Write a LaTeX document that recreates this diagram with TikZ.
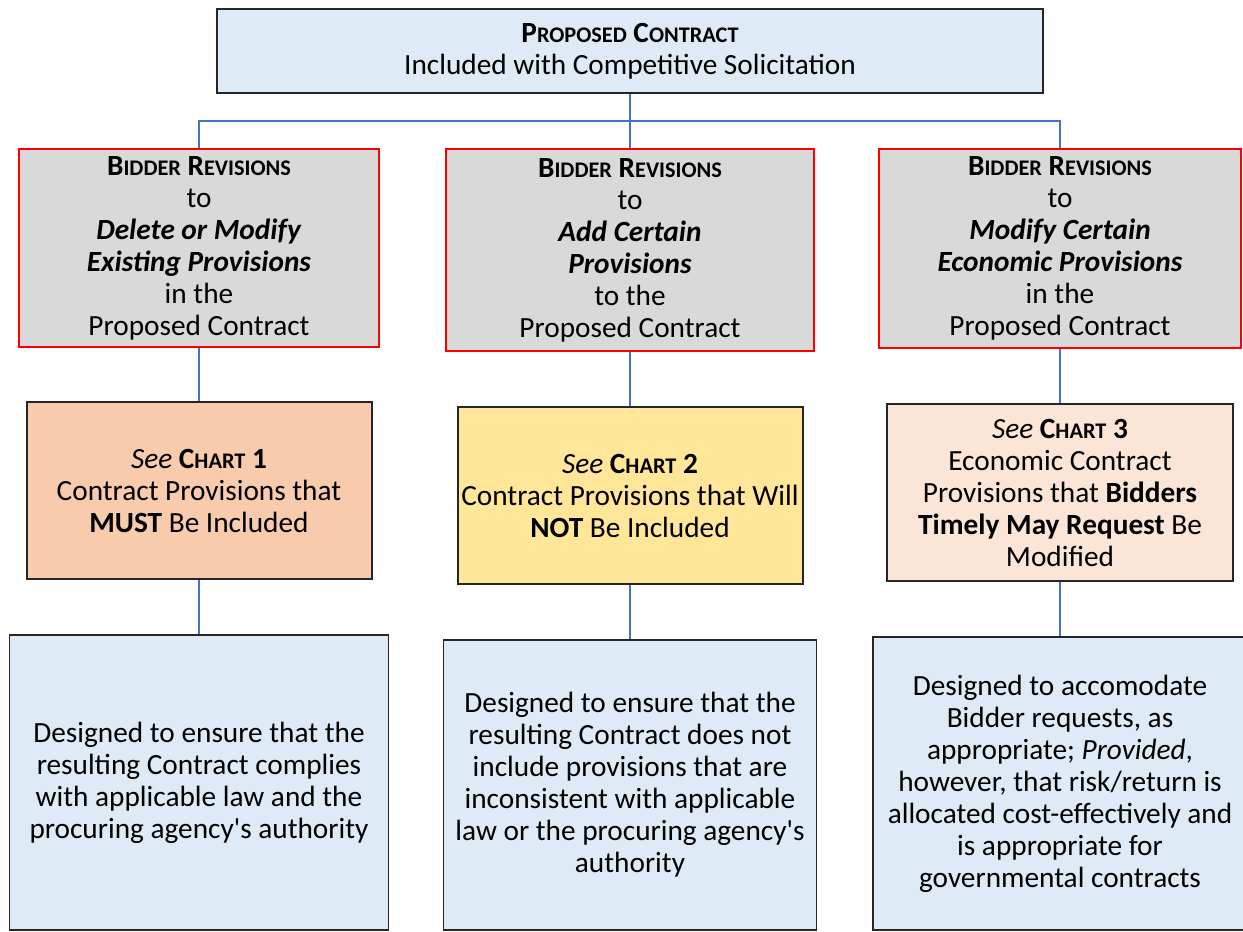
\documentclass[tikz,border=0pt]{standalone}
\usepackage{fontspec}
\setmainfont{Carlito}[Ligatures=TeXOff]
\definecolor{topblue}{HTML}{DEEBF7}
\definecolor{revgray}{HTML}{D9D9D9}
\definecolor{chartone}{HTML}{F8CBAD}
\definecolor{charttwo}{HTML}{FFE699}
\definecolor{chartthree}{HTML}{FBE5D6}
\definecolor{connblue}{HTML}{4472C4}
\newcommand\fsz{\fontsize{29.3}{32}\selectfont}
\newcommand\smc[1]{{\fontsize{22.3}{32}\selectfont #1}}
\tikzset{
  box/.style={rectangle, inner sep=0pt, align=center, font=\fsz, text=black},
  topbox/.style={box, fill=topblue, draw=black!85, line width=2pt},
  revbox/.style={box, fill=revgray, draw=red, line width=2pt},
  chartbox/.style={box, draw=black!85, line width=2pt},
  descbox/.style={box, fill=topblue, draw=black!85, line width=1.6pt},
  conn/.style={draw=connblue, line width=1.6pt},
}
\begin{document}
\begin{tikzpicture}[x=1pt,y=-1pt]
\useasboundingbox (0,0) rectangle (1243,932);
\fill[white] (0,0) rectangle (1243,932);

\node[topbox, minimum width=826pt, minimum height=84pt] (top) at (630,51)
  {\textbf{P\smc{ROPOSED} C\smc{ONTRACT}}\\Included with Competitive Solicitation};

\node[revbox, minimum width=360pt, minimum height=198pt] (b1) at (199,248)
  {\textbf{B\smc{IDDER} R\smc{EVISIONS}}\\to\\\textbf{\textit{Delete or Modify}}\\\textbf{\textit{Existing Provisions}}\\in the\\Proposed Contract};
\node[revbox, minimum width=368pt, minimum height=202pt] (b2) at (630,250)
  {\textbf{B\smc{IDDER} R\smc{EVISIONS}}\\to\\\textbf{\textit{Add Certain}}\\\textbf{\textit{Provisions}}\\to the\\Proposed Contract};
\node[revbox, minimum width=362pt, minimum height=199pt] (b3) at (1060,248.5)
  {\textbf{B\smc{IDDER} R\smc{EVISIONS}}\\to\\\textbf{\textit{Modify Certain}}\\\textbf{\textit{Economic Provisions}}\\in the\\Proposed Contract};

\node[chartbox, fill=chartone, minimum width=345pt, minimum height=177pt] (c1) at (199,490.5)
  {\textit{See} \textbf{C\smc{HART} 1}\\Contract Provisions that\\\textbf{MUST} Be Included};
\node[chartbox, fill=charttwo, minimum width=345pt, minimum height=177pt] (c2) at (630,495.5)
  {\textit{See} \textbf{C\smc{HART} 2}\\Contract Provisions that Will\\\textbf{NOT} Be Included};
\node[chartbox, fill=chartthree, minimum width=346pt, minimum height=177pt] (c3) at (1060,492.5)
  {\textit{See} \textbf{C\smc{HART} 3}\\Economic Contract\\Provisions that \textbf{Bidders}\\\textbf{Timely May Request} Be\\Modified};

\node[descbox, minimum width=379pt, minimum height=295pt] (d1) at (199,782.5)
  {Designed to ensure that the\\resulting Contract complies\\with applicable law and the\\procuring agency's authority};
\node[descbox, minimum width=373pt, minimum height=290pt] (d2) at (630,785)
  {Designed to ensure that the\\resulting Contract does not\\include provisions that are\\inconsistent with applicable\\law or the procuring agency's\\authority};
\node[descbox, minimum width=374pt, minimum height=293pt] (d3) at (1060,783.5)
  {Designed to accomodate\\Bidder requests, as\\appropriate; \textit{Provided},\\however, that risk/return is\\allocated cost-effectively and\\is appropriate for\\governmental contracts};

\coordinate (hl) at (199,121);
\coordinate (hr) at (1060,121);
\draw[conn] (top.south) -- (b2.north);
\draw[conn] (b1.north) -- (hl) -- (hr) -- (b3.north);
\draw[conn] (b1.south) -- (c1.north);
\draw[conn] (b2.south) -- (c2.north);
\draw[conn] (b3.south) -- (c3.north);
\draw[conn] (c1.south) -- (d1.north);
\draw[conn] (c2.south) -- (d2.north);
\draw[conn] (c3.south) -- (d3.north);
\end{tikzpicture}
\end{document}
